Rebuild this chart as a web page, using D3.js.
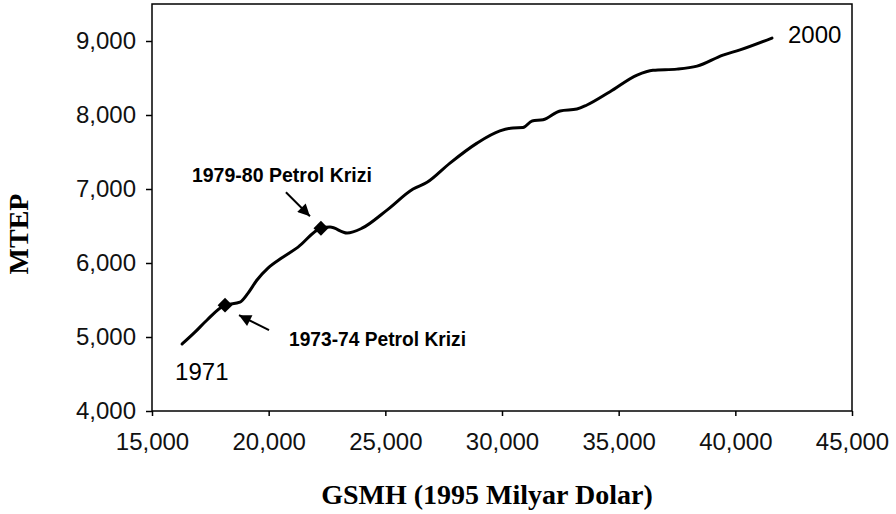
<!DOCTYPE html>
<html>
<head>
<meta charset="utf-8">
<script src="https://cdn.jsdelivr.net/npm/d3@7"></script>
<style>
  body { margin: 0; background: #fff; }
  .tick text { font-family: "Liberation Sans", Arial, sans-serif; font-size: 24px; fill: #111; }
</style>
</head>
<body>
<script>
// GSMH (1995 milyar dolar) vs MTEP, 1971-2000
const GDP = [16290, 16840, 17360, 18130, 18770, 19110, 19500, 19970, 20570, 21260,
  22240, 22630, 23360, 24000, 25070, 26190, 26790, 27770, 28930, 29910,
  30470, 30900, 31290, 31760, 32490, 33210, 33640, 34630, 35790, 36470,
  37500, 38360, 39470, 40200, 41570]
const MTEP = [4905, 5065, 5230, 5430, 5470, 5590, 5770, 5930, 6070, 6215,
  6470, 6485, 6405, 6470, 6715, 7000, 7090, 7350, 7620, 7785,
  7825, 7830, 7920, 7935, 8055, 8080, 8135, 8315, 8540, 8605,
  8620, 8660, 8810, 8880, 9040]

// crisis markers (index into the series) and their labels
const CRISES = [
  { i: 3, label: "1973-74 Petrol Krizi" },
  { i: 10, label: "1979-80 Petrol Krizi" }
]
const X_TICKS = [15000, 20000, 25000, 30000, 35000, 40000, 45000]
const Y_TICKS = [4000, 5000, 6000, 7000, 8000, 9000]

const m = { top: 4, right: 44, bottom: 103, left: 152 }
const W = 896, H = 514

const svg = d3.select("body").append("svg")
    .attr("width", W)
    .attr("height", H)

const x = d3.scaleLinear().domain([15000, 45000]).range([m.left, W - m.right])
const y = d3.scaleLinear().domain([4000, 9500]).range([H - m.bottom, m.top])

const defs = svg.append("defs")
defs.append("marker")
    .attr("id", "head")
    .attr("viewBox", "0 0 10 10")
    .attr("refX", 10).attr("refY", 5)
    .attr("markerWidth", 13).attr("markerHeight", 12)
    .attr("markerUnits", "userSpaceOnUse")
    .attr("orient", "auto")
  .append("path")
    .attr("d", "M0,0 L10,5 L0,10 Z")
    .attr("fill", "#000")

// axes
const fmt = d3.format(",")
svg.append("g")
    .attr("transform", `translate(0,${H - m.bottom})`)
    .call(d3.axisBottom(x).tickValues(X_TICKS).tickFormat(fmt)
      .tickSizeInner(5).tickSizeOuter(0).tickPadding(17))
    .call(g => g.select(".domain").remove())
    .call(g => g.selectAll("line").attr("stroke", "#000").attr("stroke-width", 1.5))

svg.append("g")
    .attr("transform", `translate(${m.left},0)`)
    .call(d3.axisLeft(y).tickValues(Y_TICKS).tickFormat(fmt)
      .tickSizeInner(6).tickSizeOuter(0).tickPadding(10))
    .call(g => g.select(".domain").remove())
    .call(g => g.selectAll("line").attr("stroke", "#000").attr("stroke-width", 1.5))

// frame
svg.append("rect")
    .attr("x", m.left).attr("y", m.top)
    .attr("width", W - m.left - m.right)
    .attr("height", H - m.top - m.bottom)
    .attr("fill", "none")
    .attr("stroke", "#000")
    .attr("stroke-width", 1.5)

// the line
const pts = GDP.map((g, i) => [g, MTEP[i]])
const line = d3.line()
    .x(d => x(d[0]))
    .y(d => y(d[1]))
    .curve(d3.curveMonotoneX)

svg.append("path")
    .datum(pts)
    .attr("d", line)
    .attr("fill", "none")
    .attr("stroke", "#000")
    .attr("stroke-width", 3)
    .attr("stroke-linejoin", "round")
    .attr("stroke-linecap", "round")

// diamonds
svg.selectAll(".crisis")
  .data(CRISES)
  .enter()
  .append("path")
    .attr("class", "crisis")
    .attr("d", d3.symbol().type(d3.symbolSquare).size(110))
    .attr("transform", d => `translate(${x(GDP[d.i])},${y(MTEP[d.i])}) rotate(45)`)
    .attr("fill", "#000")

// arrows + labels, placed relative to the diamonds
const ann = [
  { tail: [44, 25], tip: [14, 10], text: [64, 41], len: 177 },
  { tail: [-35, -36], tip: [-11, -12], text: [-129, -46], len: 180 }
]
CRISES.forEach((c, k) => {
  const cx = x(GDP[c.i]), cy = y(MTEP[c.i]), a = ann[k]
  svg.append("line")
      .attr("x1", cx + a.tail[0]).attr("y1", cy + a.tail[1])
      .attr("x2", cx + a.tip[0]).attr("y2", cy + a.tip[1])
      .attr("stroke", "#000")
      .attr("stroke-width", 2)
      .attr("marker-end", "url(#head)")
  svg.append("text")
      .attr("x", cx + a.text[0]).attr("y", cy + a.text[1])
      .attr("font-family", "'Liberation Sans', Arial, sans-serif")
      .attr("font-weight", "bold")
      .attr("font-size", 21)
      .attr("textLength", a.len)
      .attr("lengthAdjust", "spacingAndGlyphs")
      .text(c.label)
})

// year labels at the ends
const first = pts[0], last = pts[pts.length - 1]
svg.append("text")
    .attr("x", x(first[0]) - 7).attr("y", y(first[1]) + 36)
    .attr("font-family", "'Liberation Sans', Arial, sans-serif")
    .attr("font-size", 24)
    .text("1971")
svg.append("text")
    .attr("x", x(last[0]) + 16).attr("y", y(last[1]) + 5)
    .attr("font-family", "'Liberation Sans', Arial, sans-serif")
    .attr("font-size", 24)
    .text("2000")

// axis titles
svg.append("text")
    .attr("x", 487).attr("y", 504)
    .attr("text-anchor", "middle")
    .attr("font-family", "'Liberation Serif', 'Times New Roman', serif")
    .attr("font-weight", "bold")
    .attr("font-size", 28)
    .text("GSMH (1995 Milyar Dolar)")

svg.append("text")
    .attr("transform", "translate(28,234) rotate(-90)")
    .attr("text-anchor", "middle")
    .attr("font-family", "'Liberation Serif', 'Times New Roman', serif")
    .attr("font-weight", "bold")
    .attr("font-size", 28)
    .text("MTEP")
</script>
</body>
</html>
